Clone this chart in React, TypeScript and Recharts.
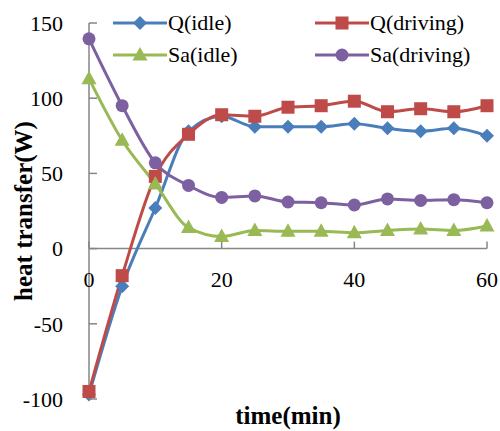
import React from "react";
import {
  LineChart,
  Line,
  XAxis,
  YAxis,
  Legend,
  ReferenceLine,
} from "recharts";

// sampling times (min)
const minutes = [0, 5, 10, 15, 20, 25, 30, 35, 40, 45, 50, 55, 60];

// heat transfer (W)
const qIdle = [-97, -25, 27, 78, 88, 81, 81, 81, 83, 80, 78, 80, 75];
const qDriving = [-95, -18, 48, 76, 89, 88, 94, 95, 98, 91, 93, 91, 95];
const saIdle = [113, 72, 43, 14, 8, 12, 11.5, 11.5, 10.5, 12, 13, 12, 15];
const saDriving = [139.5, 95, 57, 42, 34, 35, 31, 30.5, 29, 33, 32, 32.5, 30.5];

const xTicks = [0, 20, 40, 60];
const yTicks = [-100, -50, 0, 50, 100, 150];

const data = minutes.map((t, i) => ({
  t,
  qIdle: qIdle[i],
  qDriving: qDriving[i],
  saIdle: saIdle[i],
  saDriving: saDriving[i],
}));

const WIDTH = 500;
const HEIGHT = 431;
const X_AXIS_H = 30;
const MARGIN = { top: 23, right: 13, bottom: 32 - X_AXIS_H, left: 0 };
const Y_AXIS_W = 89;
const PLOT_H = HEIGHT - MARGIN.top - MARGIN.bottom - X_AXIS_H;
const Y_MIN = -100;
const Y_MAX = 150;
// distance from plot bottom up to the y = 0 line
const ZERO_UP = (PLOT_H * (0 - Y_MIN)) / (Y_MAX - Y_MIN);

const FONT = "'Liberation Serif', 'Times New Roman', serif";
const AXIS_GRAY = "#868686";

const BLUE = "#4A7EBB";
const RED = "#BE4B48";
const GREEN = "#98B954";
const PURPLE = "#7D60A0";

type Shape = "diamond" | "square" | "triangle" | "circle";

const Marker = ({ cx, cy, shape, color }: { cx: number; cy: number; shape: Shape; color: string }) => {
  if (cx == null || cy == null) return null;
  switch (shape) {
    case "diamond":
      return <path d={`M${cx},${cy - 7} L${cx + 7},${cy} L${cx},${cy + 7} L${cx - 7},${cy} Z`} fill={color} />;
    case "square":
      return <rect x={cx - 6.5} y={cy - 6.5} width={13} height={13} fill={color} />;
    case "triangle":
      return <path d={`M${cx},${cy - 8} L${cx + 7.5},${cy + 5.5} L${cx - 7.5},${cy + 5.5} Z`} fill={color} />;
    default:
      return <circle cx={cx} cy={cy} r={6.5} fill={color} />;
  }
};

const series: { key: string; name: string; color: string; shape: Shape }[] = [
  { key: "qIdle", name: "Q(idle)", color: BLUE, shape: "diamond" },
  { key: "qDriving", name: "Q(driving)", color: RED, shape: "square" },
  { key: "saIdle", name: "Sa(idle)", color: GREEN, shape: "triangle" },
  { key: "saDriving", name: "Sa(driving)", color: PURPLE, shape: "circle" },
];

const legendPos = [
  { left: 113, top: 23 },
  { left: 315, top: 23 },
  { left: 113, top: 55 },
  { left: 315, top: 55 },
];

const LegendBox = () => (
  <div style={{ position: "relative", width: WIDTH, height: 0 }}>
    {series.map((s, i) => (
      <div
        key={s.key}
        style={{
          position: "absolute",
          left: legendPos[i].left,
          top: legendPos[i].top - 14,
          height: 28,
          display: "flex",
          alignItems: "center",
          fontFamily: FONT,
          fontSize: 22,
          color: "#000",
          whiteSpace: "nowrap",
        }}
      >
        <svg width={54} height={28} style={{ marginRight: 1 }}>
          <line x1={0} y1={14} x2={54} y2={14} stroke={s.color} strokeWidth={3} />
          <Marker cx={27} cy={14} shape={s.shape} color={s.color} />
        </svg>
        <span>{s.name}</span>
      </div>
    ))}
  </div>
);

const XTick = (props: any) => {
  const { x, y, payload } = props;
  const zy = y - ZERO_UP;
  return (
    <g>
      <line x1={x} y1={zy} x2={x} y2={zy - 7} stroke={AXIS_GRAY} strokeWidth={1.5} />
      <text x={x} y={zy + 38} textAnchor="middle" fontFamily={FONT} fontSize={22} fill="#000">
        {payload.value}
      </text>
    </g>
  );
};

const YTick = (props: any) => {
  const { x, y, payload } = props;
  return (
    <g>
      <line x1={x} y1={y} x2={x + 8} y2={y} stroke={AXIS_GRAY} strokeWidth={1.5} />
      <text x={x - 26} y={y} dy="0.35em" textAnchor="end" fontFamily={FONT} fontSize={22} fill="#000">
        {payload.value}
      </text>
    </g>
  );
};

const YTitle = (props: any) => {
  const { viewBox } = props;
  const cy = viewBox.y + viewBox.height / 2;
  return (
    <text
      x={23}
      y={cy}
      transform={`rotate(-90, 23, ${cy})`}
      textAnchor="middle"
      dominantBaseline="central"
      fontFamily={FONT}
      fontSize={25}
      fontWeight="bold"
      fill="#000"
    >
      heat transfer(W)
    </text>
  );
};

const XTitle = (props: any) => {
  const { viewBox } = props;
  const cx = viewBox.x + viewBox.width / 2;
  return (
    <text
      x={cx}
      y={424}
      textAnchor="middle"
      fontFamily={FONT}
      fontSize={25}
      fontWeight="bold"
      fill="#000"
    >
      time(min)
    </text>
  );
};

export default function App() {
  return (
    <div style={{ width: WIDTH, height: HEIGHT, background: "#fff", position: "relative" }}>
      <style>{"body{margin:0}"}</style>
      <LineChart width={WIDTH} height={HEIGHT} data={data} margin={MARGIN}>
        <XAxis
          dataKey="t"
          type="number"
          domain={[0, 60]}
          ticks={xTicks}
          height={X_AXIS_H}
          axisLine={false}
          tickLine={false}
          tickSize={0}
          tickMargin={0}
          tick={<XTick />}
          interval={0}
          label={<XTitle />}
        />
        <YAxis
          domain={[Y_MIN, Y_MAX]}
          ticks={yTicks}
          width={Y_AXIS_W}
          axisLine={{ stroke: AXIS_GRAY, strokeWidth: 1.5 }}
          tickLine={false}
          tickSize={0}
          tickMargin={0}
          tick={<YTick />}
          interval={0}
          label={<YTitle />}
        />
        <ReferenceLine y={0} stroke={AXIS_GRAY} strokeWidth={1.5} />
        <Legend
          layout="horizontal"
          verticalAlign="middle"
          align="center"
          content={<LegendBox />}
          wrapperStyle={{ top: 0, left: 0, width: WIDTH, height: 0 }}
        />
        {series.map((s) => (
          <Line
            key={s.key}
            dataKey={s.key}
            name={s.name}
            type="monotone"
            stroke={s.color}
            strokeWidth={3}
            isAnimationActive={false}
            dot={(p: any) => <Marker key={`${s.key}-${p.index}`} cx={p.cx} cy={p.cy} shape={s.shape} color={s.color} />}
            activeDot={false}
          />
        ))}
      </LineChart>
    </div>
  );
}
